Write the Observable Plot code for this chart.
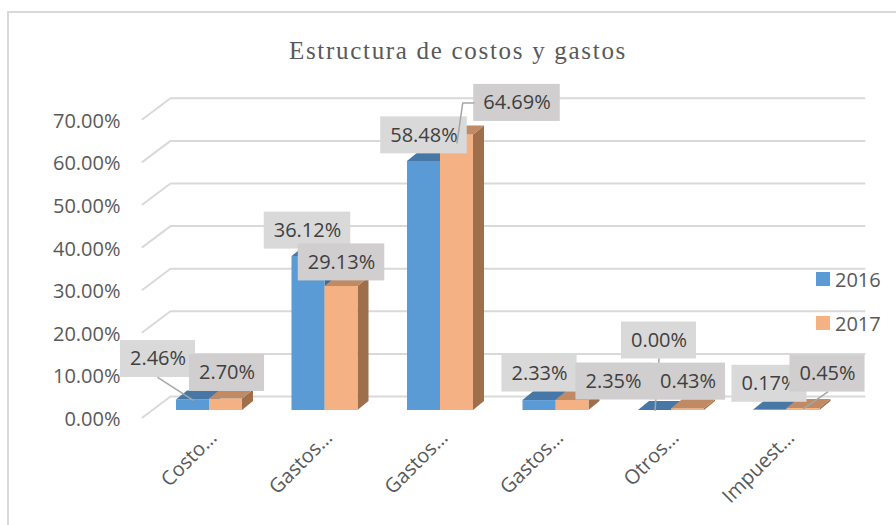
<!DOCTYPE html>
<html><head><meta charset="utf-8">
<script src="https://cdn.jsdelivr.net/npm/d3@7"></script>
<script src="https://cdn.jsdelivr.net/npm/@observablehq/plot@0.6"></script>
<style>
html,body{margin:0;padding:0;background:#fff;overflow:hidden;}
#wrap{position:relative;width:896px;height:525px;font-family:'Open Sans',sans-serif;overflow:hidden;}
#frame{position:absolute;left:7px;top:11px;width:1000px;height:1000px;border:2px solid #d9d9d9;box-sizing:border-box;}
#title{position:absolute;left:0;width:916px;top:38px;text-align:center;font-family:'Liberation Serif','Times New Roman',serif;font-size:25px;letter-spacing:1.7px;color:#595959;line-height:1;white-space:nowrap;}
#legend{position:absolute;left:816px;top:266px;}
.item{display:flex;align-items:center;height:26px;margin-bottom:18px;font-size:20px;color:#595959;}
.sw{width:14px;height:14px;margin-right:5px;}
#chart svg{position:absolute;left:0;top:0;}
</style></head>
<body>
<div id="wrap">
  <div id="frame"></div>
  <div id="chart"></div>
  <div id="title">Estructura de costos y gastos</div>
  <div id="legend"></div>
</div>
<script>
// ---- data ----
const categories = ["Costo…", "Gastos…", "Gastos…", "Gastos…", "Otros…", "Impuest…"];
const seriesNames = ["2016", "2017"];
const values2016 = [2.46, 36.12, 58.48, 2.33, 0.00, 0.17];
const values2017 = [2.70, 29.13, 64.69, 2.35, 0.43, 0.45];
const yTicks = [0, 10, 20, 30, 40, 50, 60, 70];

// ---- layout / style (pixels) ----
const X0 = 209, XSTEP = 115.5;          // category centre positions
const Y0 = 410, YTOP = 410 - 70 * 4.26; // front face of bars
const KY = (Y0 - YTOP) / 70;
const px2x = p => (p - X0) / XSTEP;
const W = 33 / XSTEP, DX = 11 / XSTEP, DZ = 9 / KY;   // bar width & depth
const colors = {
  "2016": {front: "#5b9bd5", top: "#4677a6", side: "#3f6c97", box: "#d9d9d9"},
  "2017": {front: "#f4b183", top: "#bf8a64", side: "#9f6f4c", box: "#d0cece"}
};
const labelLayout = {
  "2016": {dx: [-35, -1, 0, 0, 4, -1], dy: [-41, -26, -26, -27, -70, -26], leader: [1, 0, 0, 0, 1, 0]},
  "2017": {dx: [1, 0, 60, 41, 0, 24], dy: [-26, -24, -32, -19, -27, -35], leader: [0, 0, 1, 0, 0, 1]}
};

const ctx = document.createElement("canvas").getContext("2d");
ctx.font = "20px 'Open Sans'";
const fmt = v => v.toFixed(2) + "%";

function bars(vals, si) {
  return vals.map((v, i) => ({i, v, x1: si === 0 ? i - W : i, x2: si === 0 ? i : i + W}));
}
function tops(bs) {
  return bs.flatMap(b => [
    {id: b.i, x: b.x1, lo: b.v, hi: b.v},
    {id: b.i, x: b.x1 + DX, lo: b.v, hi: b.v + DZ},
    {id: b.i, x: b.x2, lo: b.v, hi: b.v + DZ},
    {id: b.i, x: b.x2 + DX, lo: b.v + DZ, hi: b.v + DZ}
  ]);
}
function sides(bs) {
  return bs.flatMap(b => [
    {id: b.i, x: b.x2, lo: 0, hi: b.v},
    {id: b.i, x: b.x2 + DX, lo: DZ, hi: b.v + DZ}
  ]);
}
function labels(vals, si, lay) {
  return vals.map((v, i) => {
    const bx = i + (si === 0 ? -W / 2 : W / 2);
    const t = fmt(v);
    const wpx = ctx.measureText(t).width + 19;
    const cx = bx + lay.dx[i] / XSTEP, cy = v - lay.dy[i] / KY;
    const hw = wpx / 2 / XSTEP, hh = 18.5 / KY;
    let pts = [];
    if (lay.leader[i]) {
      if (Math.abs(lay.dx[i]) > wpx / 2) {
        const s = Math.sign(lay.dx[i]);
        pts = [{x: cx - s * hw, y: cy}, {x: cx - s * (hw + 11 / XSTEP), y: cy}, {x: bx, y: v - 8 / KY}];
      } else {
        pts = [{x: cx, y: cy - hh}, {x: bx, y: v}];
      }
      pts.forEach(p => p.id = i);
    }
    return {i, t, cx, cy, hw, hh, pts};
  });
}

const gridPts = yTicks.flatMap(t => [
  {t, x: px2x(142), y: t - 7 / KY},
  {t, x: px2x(170), y: t + 14 / KY},
  {t, x: px2x(864), y: t + 14 / KY}
]);

const seriesMarks = [];
[values2016, values2017].forEach((vals, si) => {
  const c = colors[seriesNames[si]];
  const bs = bars(vals, si);
  seriesMarks.push(
    Plot.areaY(sides(bs), {x: "x", y1: "lo", y2: "hi", z: "id", fill: c.side}),
    Plot.rect(bs, {x1: "x1", x2: "x2", y1: 0, y2: "v", fill: c.front}),
    Plot.areaY(tops(bs), {x: "x", y1: "lo", y2: "hi", z: "id", fill: c.top})
  );
});
const labelMarks = [];
[values2016, values2017].forEach((vals, si) => {
  const c = colors[seriesNames[si]];
  const ls = labels(vals, si, labelLayout[seriesNames[si]]);
  labelMarks.push(
    Plot.rect(ls, {x1: d => d.cx - d.hw, x2: d => d.cx + d.hw, y1: d => d.cy - d.hh, y2: d => d.cy + d.hh, fill: c.box}),
    Plot.text(ls, {x: "cx", y: "cy", text: "t", fontSize: 20, fill: "#404040"}),
    Plot.line(ls.flatMap(d => d.pts), {x: "x", y: "y", z: "id", stroke: "#a6a6a6", strokeWidth: 1.5})
  );
});

const chart = Plot.plot({
  width: 896, height: 525,
  x: {type: "linear", domain: [0, 5], range: [X0, X0 + 5 * XSTEP], axis: null},
  y: {type: "linear", domain: [0, 70], range: [Y0, YTOP], axis: null},
  style: {fontFamily: "'Open Sans', sans-serif", background: "transparent", overflow: "visible"},
  marks: [
    Plot.line(gridPts, {x: "x", y: "y", z: "t", stroke: "#d9d9d9", strokeWidth: 2}),
    Plot.text(yTicks, {x: px2x(142), y: d => d - 7 / KY, text: d => fmt(d), textAnchor: "end", dx: -22, dy: 2, fontSize: 20, fill: "#595959"}),
    ...seriesMarks,
    Plot.text(categories.map((c, i) => ({c, i})), {x: "i", y: 0, text: "c", rotate: -45, textAnchor: "end", dx: 4, dy: 24, fontSize: 20, fill: "#595959"}),
    ...labelMarks
  ]
});
document.getElementById("chart").appendChild(chart);

const legend = document.getElementById("legend");
seriesNames.forEach(s => {
  const it = document.createElement("div");
  it.className = "item";
  it.innerHTML = `<div class="sw" style="background:${colors[s].front}"></div><span>${s}</span>`;
  legend.appendChild(it);
});
</script>
</body></html>
